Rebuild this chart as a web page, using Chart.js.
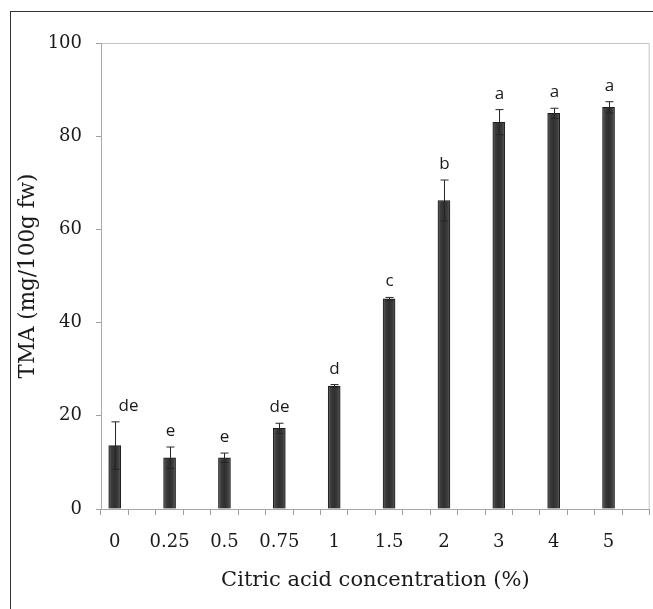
<!DOCTYPE html>
<html>
<head>
<meta charset="utf-8">
<title>TMA vs citric acid</title>
<script src="https://cdn.jsdelivr.net/npm/chart.js@4.4.1/dist/chart.umd.min.js"></script>
<style>
	body { margin: 0; background: #fff; }
	canvas { display: block; }
</style>
</head>
<body>
<canvas id="bar-chartcanvas" width="653" height="609"></canvas>
<script>
// values
var concentrations = ["0", "0.25", "0.5", "0.75", "1", "1.5", "2", "3", "4", "5"];
var tmaMeans = [13.6, 11.0, 11.0, 17.3, 26.4, 45.1, 66.2, 83.0, 84.9, 86.2];
var tmaErrors = [5.1, 2.3, 1.0, 1.1, 0.3, 0.3, 4.4, 2.7, 1.1, 1.2];
var groupLetters = ["de", "e", "e", "de", "d", "c", "b", "a", "a", "a"];
var yTicks = [0, 20, 40, 60, 80, 100];

// the original axis has an empty slot after every bar
var slotLabels = [];
var slotValues = [];
var slotIndex = [];
for (var i = 0; i < concentrations.length; i++) {
	slotLabels.push(concentrations[i], "");
	slotValues.push(tmaMeans[i], null);
	slotIndex.push(i, -1);
}

var serif = "'DejaVu Serif', serif";

// shaded bar fill, lighter at the edges like the original
function barFill(c) {
	var xs = c.chart.scales.x;
	if (!xs || c.dataIndex == null) return "#363636";
	var cx = xs.getPixelForValue(c.dataIndex);
	if (!isFinite(cx)) return "#363636";
	var g = c.chart.ctx.createLinearGradient(cx - 6, 0, cx + 6, 0);
	g.addColorStop(0, "#666");
	g.addColorStop(0.22, "#3c3c3c");
	g.addColorStop(0.5, "#2f2f2f");
	g.addColorStop(0.78, "#3c3c3c");
	g.addColorStop(1, "#5e5e5e");
	return g;
}

// outer box + top/right frame of the plot area
var framePlugin = {
	id: "frame",
	beforeDraw: function(chart) {
		var ctx = chart.ctx, a = chart.chartArea;
		ctx.save();
		ctx.strokeStyle = "#333";
		ctx.lineWidth = 1;
		ctx.strokeRect(10.5, 11.5, 800, 800);
		ctx.strokeStyle = "#c4c4c4";
		ctx.beginPath();
		ctx.moveTo(a.left, a.top + 0.5);
		ctx.lineTo(a.right - 0.5, a.top + 0.5);
		ctx.lineTo(a.right - 0.5, a.bottom);
		ctx.stroke();
		ctx.restore();
	}
};

// error bars and significance letters
var errorPlugin = {
	id: "errorbars",
	afterDatasetsDraw: function(chart) {
		var ctx = chart.ctx;
		var y = chart.scales.y;
		var meta = chart.getDatasetMeta(0);
		ctx.save();
		ctx.strokeStyle = "#262626";
		ctx.lineWidth = 1;
		ctx.fillStyle = "#1a1a1a";
		ctx.font = "17px 'Open Sans', sans-serif";
		ctx.textAlign = "center";
		ctx.textBaseline = "alphabetic";
		meta.data.forEach(function(bar, k) {
			var i = slotIndex[k];
			if (i < 0) return;
			var x = Math.round(bar.x) + 0.5;
			var top = y.getPixelForValue(tmaMeans[i] + tmaErrors[i]);
			var bot = y.getPixelForValue(tmaMeans[i] - tmaErrors[i]);
			ctx.beginPath();
			ctx.moveTo(x, top);
			ctx.lineTo(x, bot);
			ctx.moveTo(x - 4, top);
			ctx.lineTo(x + 4, top);
			ctx.moveTo(x - 4, bot);
			ctx.lineTo(x + 4, bot);
			ctx.stroke();
			var dx = (i == 0) ? 13 : 0;
			ctx.fillText(groupLetters[i], x + dx, top - 11);
		});
		ctx.restore();
	}
};

var ctx = document.getElementById("bar-chartcanvas");

var data = {
	labels: slotLabels,
	datasets: [
		{
			label: "TMA",
			data: slotValues,
			backgroundColor: barFill,
			borderColor: "#1e1e1e",
			borderWidth: 1,
			barThickness: 12
		}
	]
};

var options = {
	responsive: false,
	devicePixelRatio: 1,
	animation: false,
	layout: {
		padding: { top: 43, right: 1, bottom: 0, left: 0 }
	},
	plugins: {
		legend: { display: false },
		tooltip: { enabled: false }
	},
	scales: {
		x: {
			type: "category",
			offset: true,
			grid: { offset: true, drawOnChartArea: false, color: "#9e9e9e", tickLength: 6 },
			border: { color: "#a8a8a8" },
			ticks: {
				autoSkip: false,
				maxRotation: 0,
				padding: 17,
				color: "#1a1a1a",
				font: { family: serif, size: 18 }
			},
			title: {
				display: true,
				text: "Citric acid concentration (%)",
				color: "#1a1a1a",
				font: { family: serif, size: 21 },
				padding: { top: 4, bottom: 16 }
			},
			afterFit: function(scale) { scale.height = 100; }
		},
		y: {
			min: 0,
			max: 100,
			afterBuildTicks: function(scale) {
				scale.ticks = yTicks.map(function(v) { return { value: v }; });
			},
			grid: { drawOnChartArea: false, color: "#9e9e9e", tickLength: 5 },
			border: { color: "#a8a8a8" },
			ticks: {
				padding: 14,
				color: "#1a1a1a",
				font: { family: serif, size: 18 }
			},
			title: {
				display: true,
				text: "TMA (mg/100g fw)",
				color: "#1a1a1a",
				font: { family: serif, size: 21.5 },
				padding: { top: 16, bottom: 0 }
			},
			afterFit: function(scale) { scale.width = 101; }
		}
	}
};

var chart = new Chart(ctx, {
	type: "bar",
	data: data,
	options: options,
	plugins: [framePlugin, errorPlugin]
});
</script>
</body>
</html>
